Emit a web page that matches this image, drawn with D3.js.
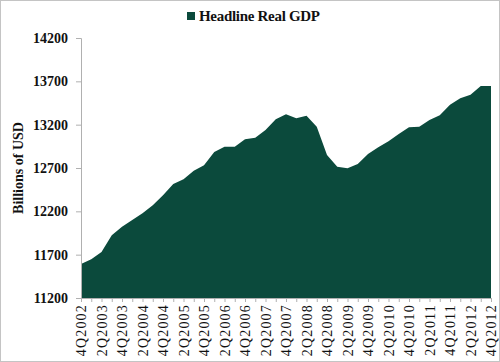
<!DOCTYPE html>
<html>
<head>
<meta charset="utf-8">
<script src="https://cdn.jsdelivr.net/npm/d3@7"></script>
<style>
  body { margin: 0; background: #fff; }
  svg { display: block; font-family: "Liberation Serif", "DejaVu Serif", serif; }
</style>
</head>
<body>
<div id="canvas"></div>
<script>
const quarters = []
for (let yr = 2002; yr <= 2012; yr++) {
    for (let q = 1; q <= 4; q++) {
        if (yr === 2002 && q < 4) continue
        if (yr === 2012 && q > 4) continue
        quarters.push(q + "Q" + yr)
    }
}

const gdp = [
    11592, 11647, 11731, 11923, 12023, 12100, 12177, 12270, 12385, 12516,
    12570, 12669, 12731, 12885, 12946, 12946, 13031, 13050, 13139, 13262,
    13320, 13274, 13304, 13177, 12850, 12715, 12697, 12746, 12862, 12939,
    13008, 13092, 13170, 13177, 13254, 13308, 13431, 13504, 13546, 13646,
    13646
]

const yTicks = [11200, 11700, 12200, 12700, 13200, 13700, 14200]
const seriesName = "Headline Real GDP"
const yTitle = "Billions of USD"

const data = quarters.map((q, i) => ({ q: q, v: gdp[i] }))

const width = 500
const height = 362
const margin = { top: 38, left: 81, bottom: 64, right: 9 }
const iwidth = width - margin.left - margin.right
const iheight = height - margin.top - margin.bottom
const green = "#0b4a3c"

const svg = d3.select("#canvas").append("svg")
    .attr("width", width)
    .attr("height", height)

svg.append("rect")
    .attr("x", 0.5).attr("y", 0.5)
    .attr("width", width - 1).attr("height", height - 1)
    .attr("fill", "none")
    .attr("stroke", "#c4c4c4")

const g = svg.append("g")
    .attr("transform", `translate(${margin.left}, ${margin.top})`)

const x = d3.scalePoint()
    .domain(quarters)
    .range([0, iwidth])

const y = d3.scaleLinear()
    .domain([11200, 14200])
    .range([iheight, 0])

const area = d3.area()
    .x(d => x(d.q))
    .y0(iheight)
    .y1(d => y(d.v))

g.append("path")
    .datum(data)
    .attr("fill", green)
    .attr("d", area)

// y axis
const yAxis = g.append("g")
    .call(d3.axisLeft(y).tickValues(yTicks).tickFormat(d3.format("d")).tickSize(5).tickPadding(8))
yAxis.select(".domain").attr("stroke", "#b0b0b0")
yAxis.selectAll(".tick line").attr("stroke", "#b0b0b0")
yAxis.selectAll("text")
    .attr("font-size", 14)
    .attr("font-weight", "bold")
    .attr("font-family", "Liberation Serif, serif")
    .attr("fill", "#111")

// x axis
const xAxis = g.append("g")
    .attr("transform", `translate(0, ${iheight})`)
    .call(d3.axisBottom(x).tickSize(4).tickFormat((d, i) => i % 2 === 0 ? d : ""))
xAxis.select(".domain").attr("stroke", "#b0b0b0")
xAxis.selectAll(".tick line").attr("stroke", "#b0b0b0")
xAxis.selectAll("text")
    .attr("transform", "rotate(-90)")
    .attr("text-anchor", "end")
    .attr("x", -6)
    .attr("y", 0)
    .attr("dy", "0.35em")
    .attr("font-size", 14)
    .attr("letter-spacing", 1.2)
    .attr("font-family", "Liberation Serif, serif")
    .attr("fill", "#111")

// y title
svg.append("text")
    .attr("transform", `translate(18, ${margin.top + iheight / 2}) rotate(-90)`)
    .attr("text-anchor", "middle")
    .attr("dy", "0.35em")
    .attr("font-size", 14)
    .attr("font-weight", "bold")
    .attr("fill", "#111")
    .text(yTitle)

// legend
const legend = svg.append("g").attr("transform", "translate(187, 12)")
legend.append("rect")
    .attr("width", 8).attr("height", 8)
    .attr("fill", green)
legend.append("text")
    .attr("x", 12).attr("y", 8.5)
    .attr("font-size", 15)
    .attr("letter-spacing", -0.3)
    .attr("font-weight", "bold")
    .attr("fill", "#111")
    .text(seriesName)
</script>
</body>
</html>
